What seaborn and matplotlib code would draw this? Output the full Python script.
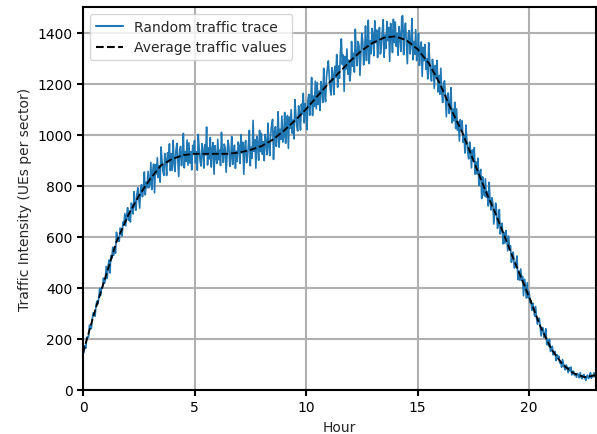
import numpy as np
import pandas as pd
import matplotlib
matplotlib.use("Agg")
import matplotlib.pyplot as plt
import seaborn as sns

# Average traffic values (every half hour, 0..23 h)
avg_hours = [i * 0.5 for i in range(47)]
avg_values = [145, 300, 440, 580, 680, 760, 825, 880, 905, 920, 925, 925, 925, 925,
              930, 940, 955, 980, 1015, 1055, 1100, 1150, 1200, 1245, 1290, 1330,
              1360, 1380, 1385, 1370, 1335, 1280, 1200, 1100, 1010, 900, 790, 690,
              580, 470, 365, 250, 160, 100, 65, 50, 58]

# Random traffic trace (every 2.5 minutes, 0..23 h), one row per hour
trace_values = [
    142, 147, 174, 164, 206, 209, 207, 254, 240, 241, 278, 302,
    298, 289, 331, 348, 337, 361, 398, 370, 401, 401, 438, 418,
    430, 484, 437, 483, 509, 458, 526, 516, 559, 527, 561, 536,
    618, 599, 583, 582, 634, 629, 603, 658, 646, 691, 643, 685,
    714, 665, 701, 658, 732, 719, 689, 777, 722, 704, 767, 792,
    754, 712, 788, 804, 757, 790, 854, 764, 814, 792, 856, 792,
    806, 891, 785, 854, 885, 772, 882, 846, 910, 832, 878, 814,
    952, 901, 857, 840, 926, 901, 840, 929, 893, 964, 859, 926,
    861, 978, 891, 856, 937, 966, 903, 836, 937, 954, 879, 920,
    1005, 870, 934, 895, 979, 880, 968, 889, 933, 862, 958, 931,
    977, 889, 933, 861, 1001, 945, 897, 877, 965, 937, 869, 961,
    921, 1030, 881, 949, 905, 989, 873, 941, 969, 845, 957, 913,
    887, 982, 902, 940, 879, 1009, 929, 891, 963, 948, 853, 917,
    978, 952, 876, 910, 993, 883, 933, 959, 868, 936, 895, 971,
    954, 887, 1000, 929, 970, 845, 948, 977, 890, 911, 960, 1017,
    878, 951, 908, 1056, 935, 980, 869, 994, 967, 900, 1017, 934,
    1005, 923, 972, 898, 1001, 973, 921, 1045, 954, 918, 1005, 1037,
    1060, 903, 1011, 1031, 954, 999, 1090, 951, 1021, 982, 1073, 971,
    993, 1087, 966, 1042, 1075, 946, 1069, 1025, 1098, 1006, 1057, 983,
    1137, 1081, 1032, 1014, 1113, 1087, 1018, 1120, 1081, 1162, 1046, 1122,
    1091, 1019, 1135, 1158, 1076, 1126, 1224, 1075, 1151, 1111, 1210, 1101,
    1204, 1118, 1171, 1095, 1208, 1180, 1126, 1260, 1165, 1129, 1224, 1259,
    1289, 1228, 1175, 1155, 1262, 1233, 1157, 1268, 1225, 1314, 1186, 1269,
    1221, 1324, 1375, 1275, 1312, 1170, 1306, 1257, 1336, 1237, 1292, 1211,
    1242, 1365, 1268, 1319, 1245, 1413, 1315, 1270, 1365, 1349, 1232, 1317,
    1397, 1367, 1273, 1319, 1426, 1290, 1355, 1448, 1278, 1367, 1317, 1416,
    1389, 1309, 1446, 1360, 1410, 1302, 1384, 1420, 1316, 1341, 1401, 1450,
    1303, 1390, 1338, 1443, 1368, 1420, 1287, 1436, 1403, 1322, 1452, 1361,
    1441, 1346, 1397, 1311, 1423, 1389, 1326, 1462, 1466, 1313, 1405, 1437,
    1361, 1278, 1392, 1408, 1316, 1360, 1455, 1293, 1365, 1315, 1411, 1290,
    1314, 1397, 1271, 1338, 1363, 1228, 1342, 1290, 1353, 1256, 1297, 1218,
    1360, 1294, 1238, 1210, 1295, 1260, 1181, 1271, 1223, 1291, 1167, 1232,
    1158, 1260, 1168, 1126, 1194, 1211, 1142, 1070, 1156, 1163, 1083, 1112,
    1184, 1046, 1100, 1054, 1127, 1024, 1101, 1017, 1051, 975, 1059, 1025,
    1054, 970, 998, 928, 1038, 981, 931, 905, 971, 938, 870, 940,
    897, 949, 845, 893, 846, 908, 801, 850, 864, 750, 835, 789,
    760, 827, 755, 777, 721, 814, 743, 705, 753, 733, 650, 692,
    732, 702, 633, 650, 707, 611, 641, 653, 572, 617, 574, 625,
    594, 545, 603, 551, 565, 500, 532, 540, 478, 481, 500, 525,
    432, 466, 430, 474, 428, 445, 369, 434, 410, 360, 420, 361,
    384, 342, 351, 312, 340, 320, 289, 327, 282, 257, 280, 281,
    247, 212, 245, 243, 206, 214, 240, 178, 196, 172, 199, 151,
    155, 171, 137, 149, 151, 115, 138, 122, 133, 106, 112, 89,
    119, 102, 87, 79, 98, 88, 68, 88, 75, 90, 59, 73,
    73, 57, 64, 50, 65, 58, 48, 68, 51, 44, 57, 61,
    49, 37, 54, 58, 45, 53, 68, 46, 58, 52, 68, 51,
    60]
trace_hours = [i / 24 for i in range(len(trace_values))]

x_ticks = [0, 5, 10, 15, 20]
y_ticks = [0, 200, 400, 600, 800, 1000, 1200, 1400]

sns.set_style("white")
plt.rcParams['font.family'] = ['DejaVu Sans']

fig = plt.figure(figsize=(5.97, 4.35), dpi=100)
ax = fig.add_axes([83 / 597, 44 / 435, 513 / 597, 383 / 435])

trace_df = pd.DataFrame({"Hour": trace_hours, "Traffic": trace_values})
avg_df = pd.DataFrame({"Hour": avg_hours, "Traffic": avg_values})

sns.lineplot(data=trace_df, x="Hour", y="Traffic", ax=ax, color="#1f77b4",
             linewidth=1.2, label="Random traffic trace", estimator=None)
sns.lineplot(data=avg_df, x="Hour", y="Traffic", ax=ax, color="black",
             linewidth=1.3, linestyle="--", label="Average traffic values",
             estimator=None)

ax.set_xlim(0, 23)
ax.set_ylim(0, 1500)
ax.set_xticks(x_ticks)
ax.set_yticks(y_ticks)
ax.grid(True, color="#b0b0b0", linewidth=1.5)
ax.set_axisbelow(True)
for s in ax.spines.values():
    s.set_color("black")
    s.set_linewidth(1.5)
ax.tick_params(axis="both", direction="out", length=4, width=1.5,
               colors="black", labelsize=10, bottom=True, left=True)
ax.set_xlabel("Hour", fontsize=10)
ax.set_ylabel("Traffic Intensity (UEs per sector)", fontsize=10)
leg = ax.legend(loc="upper left", fontsize=10, frameon=True, fancybox=True,
                framealpha=0.8, edgecolor="#cccccc")
for line in leg.get_lines():
    line.set_linewidth(1.5)

fig.savefig("out.png", dpi=100)
